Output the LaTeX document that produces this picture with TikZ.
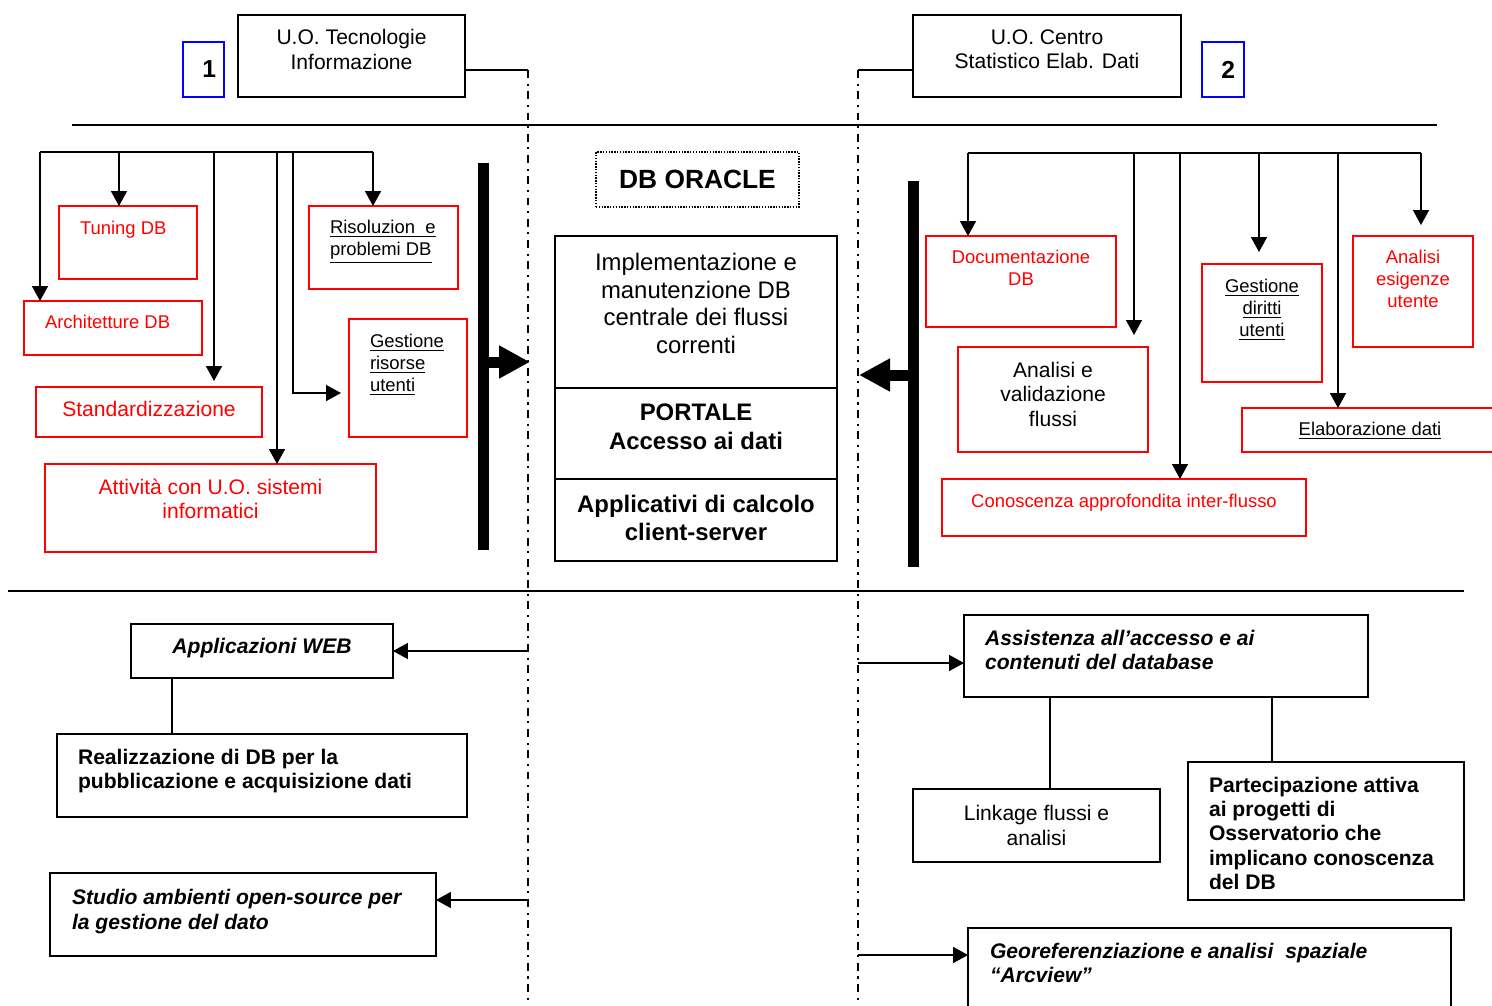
\documentclass[tikz,border=0pt]{standalone}
\usepackage{fontspec}
\setmainfont{Liberation Sans}
\usetikzlibrary{arrows.meta,positioning}
\begin{document}
\begin{tikzpicture}[x=0.02cm, y=-0.02cm,
  box/.style={draw, line width=1pt, inner sep=0pt, outer sep=0pt},
  redbox/.style={box, draw=red},
  bluebox/.style={box, draw=blue},
  wh/.style 2 args={minimum width=#1cm, minimum height=#2cm},
  txt/.style={inner sep=0pt, outer sep=0pt, align=center, font=\fontsize{12}{14}\selectfont},
  ltxt/.style={txt, align=left},
  small/.style={inner sep=0pt, outer sep=0pt, align=center, font=\fontsize{10.5}{12.5}\selectfont},
  lsmall/.style={small, align=left},
  arr/.style={line width=0.9pt, -{Triangle[length=0.3cm, width=0.32cm]}},
  fat/.style={line width=0.22cm, -{Triangle[length=0.62cm, width=0.62cm]}},
  bar/.style={fill=black, minimum width=0.22cm, inner sep=0pt},
  dashdot/.style={line width=0.8pt, dash pattern=on 4.5pt off 3.2pt on 1.2pt off 3.2pt}]
\useasboundingbox (0,0) rectangle (1492,1005);
% headers
\node[box, wh={4.54}{1.64}] (uo1) at (351.5,56) {};
\node[txt, below=0.29cm of uo1.north] (uo1t) {U.O. Tecnologie\\Informazione};
\node[bluebox, wh={0.82}{1.1}] (b1) at (203.5,69.5) {};
\node[inner sep=0pt, font=\fontsize{14}{16}\bfseries, right=0.38cm of b1.west] (n1) {1};
\node[box, wh={5.36}{1.64}] (uo2) at (1047,56) {};
\node[txt, below=0.29cm of uo2.north] (uo2t) {U.O. Centro\\Statistico Elab. Dati};
\node[bluebox, wh={0.84}{1.1}] (b2) at (1223,69.5) {};
\node[inner sep=0pt, font=\fontsize{14}{16}\bfseries, right=0.38cm of b2.west] (n2) {2};
\coordinate (vL) at (528,70);
\coordinate (vLb) at (528,1005);
\coordinate (vR) at (858,70);
\coordinate (vRb) at (858,1005);
\draw[line width=1pt] (vL -| uo1.east) -- (vL);
\draw[line width=1pt] (vR -| uo2.west) -- (vR);
\draw[dashdot] (vL) -- (vLb);
\draw[dashdot] (vR) -- (vRb);
\draw[line width=1.3pt] (72,125) -- (1437,125);
\draw[line width=1.3pt] (8,591) -- (1464,591);
% left group
\node[redbox, wh={2.76}{1.46}] (tuning) at (128,242.5) {};
\node[lsmall, text=red, below right=0.3cm and 0.42cm of tuning.north west] (tuningt) {Tuning DB};
\node[redbox, wh={3.56}{1.08}] (arch) at (113,328) {};
\node[lsmall, text=red, below right=0.29cm and 0.42cm of arch.north west] (archt) {Architetture DB};
\node[redbox, wh={4.52}{1.0}] (std) at (149,412) {};
\node[txt, text=red, below=0.29cm of std.north] (stdt) {Standardizzazione};
\node[redbox, wh={6.62}{1.76}] (att) at (210.5,508) {};
\node[txt, text=red, below=0.29cm of att.north] (attt) {Attività con U.O. sistemi\\informatici};
\node[redbox, wh={2.98}{1.66}] (risol) at (383.5,247.5) {};
\node[lsmall, below right=0.29cm and 0.42cm of risol.north west] (risolt) {\underline{Risoluzion\ \ e}\\\underline{problemi DB}};
\node[redbox, wh={2.36}{2.36}] (gesr) at (408,378) {};
\node[lsmall, below right=0.3cm and 0.42cm of gesr.north west] (gesrt) {\underline{Gestione}\\\underline{risorse}\\\underline{utenti}};
\coordinate (hA) at (40,152);
\coordinate (hB) at (119,152);
\coordinate (hC) at (214,152);
\coordinate (hD) at (277,152);
\coordinate (hE) at (293,152);
\coordinate (hF) at (373,152);
\draw[line width=0.9pt] (hA) -- (hF);
\draw[arr] (hA) -- (hA |- arch.north);
\draw[arr] (hB) -- (hB |- tuning.north);
\draw[arr, shorten >=0.12cm] (hC) -- (hC |- std.north);
\draw[arr] (hD) -- (hD |- att.north);
\draw[arr, shorten >=0.16cm] (hE) |- ([yshift=-0.3cm]gesr.west);
\draw[arr] (hF) -- (hF |- risol.north);
\node[bar, minimum height=7.74cm] (barL) at (483.5,356.5) {};
\coordinate (tipL) at (530,362);
\draw[fat] (barL.center |- tipL) -- (tipL);
% centre
\node[box, wh={4.06}{1.1}, line width=0.8pt, dash pattern=on 0.8pt off 0.8pt] (oracle) at (697.5,179.5) {};
\node[inner sep=0pt, font=\fontsize{15}{18}\bfseries] (oraclet) at (oracle) {DB ORACLE};
\node[box, wh={5.64}{3.04}] (impl) at (696,312) {};
\node[inner sep=0pt, align=center, font=\fontsize{13.6}{15.7}\selectfont, below=0.34cm of impl.north] (implt) {Implementazione e\\manutenzione DB\\centrale dei flussi\\correnti};
\node[box, wh={5.64}{1.82}, below=0pt of impl] (port) {};
\node[inner sep=0pt, align=center, font=\fontsize{13.6}{16.4}\bfseries, below=0.31cm of port.north] (portt) {PORTALE\\Accesso ai dati};
\node[box, wh={5.64}{1.64}, below=0pt of port] (appl) {};
\node[inner sep=0pt, align=center, font=\fontsize{13.6}{16.4}\bfseries, below=0.31cm of appl.north] (applt) {Applicativi di calcolo\\client-server};
% right group
\node[redbox, wh={3.8}{1.82}] (doc) at (1021,281.5) {};
\node[small, text=red, below=0.29cm of doc.north] (doct) {Documentazione\\DB};
\node[redbox, wh={3.8}{2.1}] (anv) at (1053,399.5) {};
\node[txt, below=0.3cm of anv.north] (anvt) {Analisi e\\validazione\\flussi};
\node[redbox, wh={2.4}{2.36}] (gesd) at (1262,323) {};
\node[small, below=0.3cm of gesd.north] (gesdt) {\underline{Gestione}\\\underline{diritti}\\\underline{utenti}};
\node[redbox, wh={2.4}{2.22}] (ane) at (1413,291.5) {};
\node[small, text=red, below=0.29cm of ane.north] (anet) {Analisi\\esigenze\\utente};
\node[redbox, wh={5.12}{0.88}] (elab) at (1370,430) {};
\node[small, below=0.29cm of elab.north] (elabt) {\underline{Elaborazione dati}};
\node[redbox, wh={7.28}{1.14}] (con) at (1124,507.5) {};
\node[small, text=red, below=0.3cm of con.north] (cont) {Conoscenza approfondita inter-flusso};
\coordinate (kA) at (968,153);
\coordinate (kB) at (1134,153);
\coordinate (kC) at (1180,153);
\coordinate (kD) at (1259,153);
\coordinate (kE) at (1338,153);
\coordinate (kF) at (1421,153);
\draw[line width=0.9pt] (kA) -- (kF);
\draw[arr] (kA) -- (kA |- doc.north);
\draw[arr, shorten >=0.24cm] (kB) -- (kB |- anv.north);
\draw[arr] (kC) -- (kC |- con.north);
\draw[arr, shorten >=0.24cm] (kD) -- (kD |- gesd.north);
\draw[arr] (kE) -- (kE |- elab.north);
\draw[arr, shorten >=0.22cm] (kF) -- (kF |- ane.north);
\node[bar, minimum height=7.72cm] (barR) at (913.5,374) {};
\coordinate (tipR) at (859,375);
\draw[fat] (barR.center |- tipR) -- (tipR);
% bottom left
\node[box, wh={5.24}{1.08}] (web) at (262,651) {};
\node[txt, font=\fontsize{12}{14}\bfseries\itshape, below=0.29cm of web.north] (webt) {Applicazioni WEB};
\node[box, wh={8.2}{1.66}] (real) at (262,775.5) {};
\node[ltxt, font=\fontsize{12}{14}\bfseries, below right=0.3cm and 0.42cm of real.north west] (realt) {Realizzazione di DB per la\\pubblicazione e acquisizione dati};
\node[box, wh={7.72}{1.66}] (stud) at (243,914.5) {};
\node[ltxt, font=\fontsize{12}{14}\bfseries\itshape, below right=0.33cm and 0.44cm of stud.north west] (studt) {Studio ambienti open-source per\\la gestione del dato};
\draw[arr] (vL |- web.east) -- (web.east);
\coordinate (j0) at ([xshift=-1.8cm]web.south);
\draw[line width=0.9pt] (j0) -- (j0 |- real.north);
\coordinate (sL) at (528,900);
\draw[arr] (sL) -- (sL -| stud.east);
% bottom right
\node[box, wh={8.08}{1.64}] (ass) at (1166,656) {};
\node[ltxt, font=\fontsize{12}{14}\bfseries\itshape, below right=0.3cm and 0.42cm of ass.north west] (asst) {Assistenza all’accesso e ai\\contenuti del database};
\node[box, wh={4.94}{1.46}] (link) at (1036.5,825.5) {};
\node[txt, below=0.33cm of link.north] (linkt) {Linkage flussi e\\analisi};
\node[box, wh={5.52}{2.76}] (part) at (1326,831) {};
\node[ltxt, font=\fontsize{12}{13.8}\bfseries, below right=0.3cm and 0.42cm of part.north west] (partt) {Partecipazione attiva\\ai progetti di\\Osservatorio che\\implicano conoscenza\\del DB};
\node[box, wh={9.66}{1.64}] (geo) at (1209.5,969) {};
\node[ltxt, font=\fontsize{12}{14}\bfseries\itshape, below right=0.3cm and 0.44cm of geo.north west] (geot) {Georeferenziazione e analisi\ \ spaziale\\“Arcview”};
\coordinate (aR) at (858,663);
\draw[arr] (aR) -- (aR -| ass.west);
\coordinate (gR) at (858,955);
\draw[arr] (gR) -- (gR -| geo.west);
\coordinate (j1) at ([xshift=-2.32cm]ass.south);
\draw[line width=0.9pt] (j1) -- (j1 |- link.north);
\coordinate (j2) at ([xshift=2.12cm]ass.south);
\draw[line width=0.9pt] (j2) -- (j2 |- part.north);
\end{tikzpicture}
\end{document}
